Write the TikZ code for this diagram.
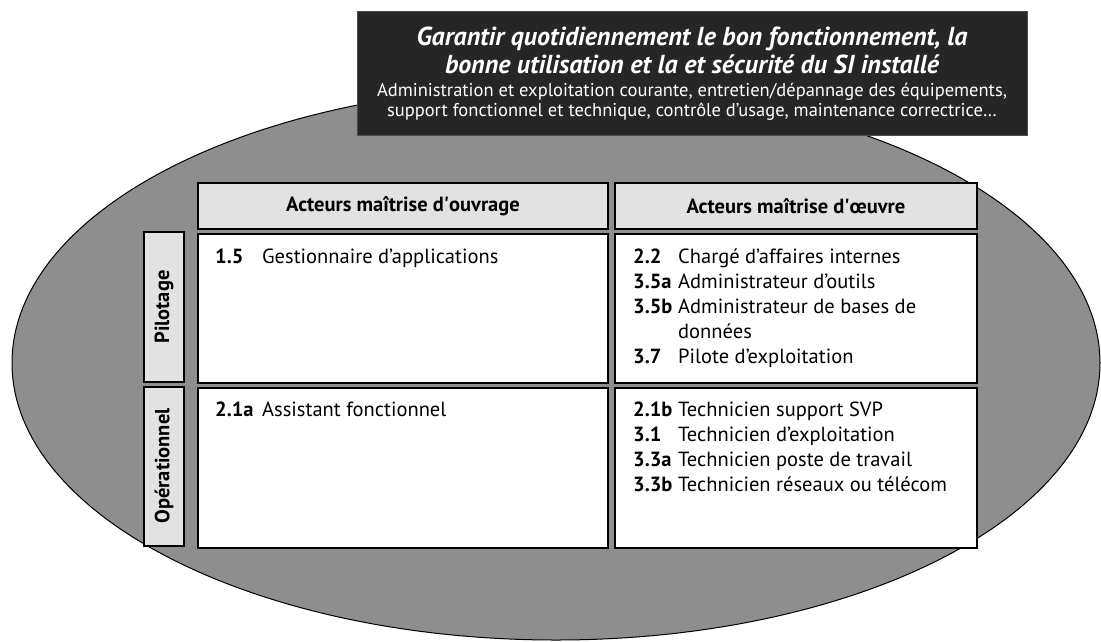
\documentclass[tikz,border=0pt]{standalone}
\usepackage{fontspec}
\setmainfont{PT Sans}
\usepackage{array}
\usetikzlibrary{positioning}
\definecolor{sioval}{HTML}{8E8E8E}
\definecolor{sidark}{HTML}{262626}
\definecolor{sihead}{HTML}{E2E2E2}
\newcommand{\rolerow}[2]{\textbf{#1} & #2\\}
\newcommand{\rolefont}{\fontsize{20.5}{25}\selectfont}

\begin{document}
\begin{tikzpicture}[x=1pt,y=-1pt,line join=miter,
  zone/.style={fill=sioval,draw=black,line width=1pt},
  missionbox/.style={fill=sidark,draw=black!70,line width=.8pt},
  headbox/.style={fill=sihead,draw=black,line width=1.2pt},
  rolebox/.style={fill=white,draw=black,line width=1.2pt},
  roles/.style={anchor=north west,inner sep=0pt,font=\rolefont,text=black},
  headtext/.style={font=\fontsize{20.5}{22}\selectfont\bfseries},
  sidetext/.style={font=\fontsize{20.5}{22}\selectfont\bfseries,rotate=90}]
\path[use as bounding box] (0,0) rectangle (1101,641);
\fill[white] (0,0) rectangle (1101,641);

% ovale du SI installe
\draw[zone] (556,363) ellipse[x radius=544,y radius=277];

% mission
\draw[missionbox] (357,11) rectangle (1027,135);
\node[text=white,align=center,font=\fontsize{26}{28}\selectfont\bfseries\itshape] (mission) at (692,50)
  {Garantir quotidiennement le bon fonctionnement, la\\bonne utilisation et la et sécurité du SI installé};
\node[text=white,align=center,font=\fontsize{18.5}{20}\selectfont] (detail) at (692,102)
  {Administration et exploitation courante, entretien/dépannage des équipements,\\support fonctionnel et technique, contrôle d'usage, maintenance correctrice\dots};

% en-tetes de colonnes
\draw[headbox] (198,183) rectangle (608,229);
\draw[headbox] (615,183) rectangle (977,229);
\node[headtext] (moa) at (403,206) {Acteurs maîtrise d\textquotesingle ouvrage};
\node[headtext] (moe) at (796,206) {Acteurs maîtrise d\textquotesingle œuvre};

% en-tetes de lignes
\draw[headbox] (144,232) rectangle (184,382);
\draw[headbox] (144,387) rectangle (184,546);
\node[sidetext] (pilot) at (164,307) {Pilotage};
\node[sidetext] (oper) at (164,466) {Opérationnel};

% cases
\draw[rolebox] (198,234) rectangle (608,383);
\draw[rolebox] (615,234) rectangle (977,383);
\draw[rolebox] (198,388) rectangle (608,548);
\draw[rolebox] (615,388) rectangle (977,548);

\node[roles] (moapilot) at (215,246) {\begin{tabular}{@{}p{47pt}@{}l@{}}
  \rolerow{1.5}{Gestionnaire d'applications}
\end{tabular}};
\node[roles] (moepilot) at (633,246) {\begin{tabular}{@{}p{45pt}@{}l@{}}
  \rolerow{2.2}{Chargé d'affaires internes}
  \rolerow{3.5a}{Administrateur d'outils}
  \rolerow{3.5b}{Administrateur de bases de}
  \rolerow{}{données}
  \rolerow{3.7}{Pilote d'exploitation}
\end{tabular}};
\node[roles] (moaoper) at (215,399) {\begin{tabular}{@{}p{47pt}@{}l@{}}
  \rolerow{2.1a}{Assistant fonctionnel}
\end{tabular}};
\node[roles] (moeoper) at (633,399) {\begin{tabular}{@{}p{45pt}@{}l@{}}
  \rolerow{2.1b}{Technicien support SVP}
  \rolerow{3.1}{Technicien d'exploitation}
  \rolerow{3.3a}{Technicien poste de travail}
  \rolerow{3.3b}{Technicien réseaux ou télécom}
\end{tabular}};
\end{tikzpicture}
\end{document}
